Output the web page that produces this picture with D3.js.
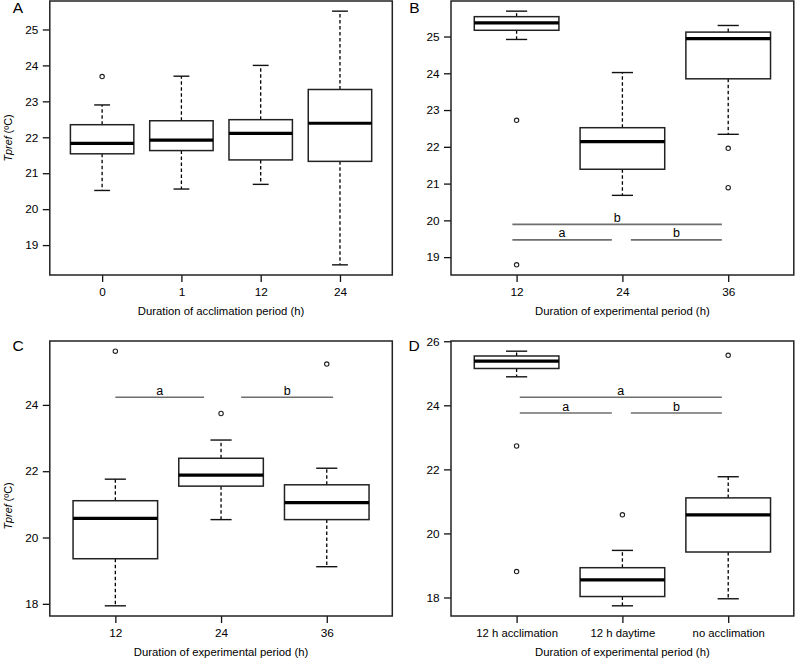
<!DOCTYPE html>
<html><head><meta charset="utf-8">
<script src="https://cdn.jsdelivr.net/npm/d3@7"></script>
<style>body{margin:0;background:#fff} svg{display:block;font-family:"Liberation Sans",Arial,sans-serif}</style>
</head><body><svg id="c" width="796" height="658"></svg>
<script>
// ---- data: each box is [lower whisker, Q1, median, Q3, upper whisker]
const catsA = ["0", "1", "12", "24"];
const boxA = [[20.52, 21.54, 21.83, 22.35, 22.90], [20.56, 21.63, 21.92, 22.46, 23.70], [20.69, 21.37, 22.11, 22.49, 24.00], [18.45, 21.33, 22.39, 23.33, 25.51]];
const outA = [[23.69], [], [], []];
const ticksA = [19, 20, 21, 22, 23, 24, 25];

const catsB = ["12", "24", "36"];
const boxB = [[24.92, 25.17, 25.37, 25.54, 25.69], [20.68, 21.39, 22.14, 22.52, 24.02], [22.34, 23.85, 24.94, 25.12, 25.30]];
const outB = [[22.72, 18.79], [], [21.96, 20.89]];
const ticksB = [19, 20, 21, 22, 23, 24, 25];
const sigB = [{x1: 0.96, x2: 2.94, y: 19.89, t: "b"}, {x1: 0.96, x2: 1.90, y: 19.47, t: "a"}, {x1: 2.08, x2: 2.94, y: 19.47, t: "b"}];

const catsC = ["12", "24", "36"];
const boxC = [[17.94, 19.36, 20.58, 21.11, 21.76], [20.54, 21.55, 21.88, 22.39, 22.94], [19.12, 20.54, 21.05, 21.59, 22.09]];
const outC = [[25.62], [23.74], [25.23]];
const ticksC = [18, 20, 22, 24];
const sigC = [{x1: 1.00, x2: 1.84, y: 24.23, t: "a"}, {x1: 2.19, x2: 3.06, y: 24.23, t: "b"}];

const catsD = ["12 h acclimation", "12 h daytime", "no acclimation"];
const boxD = [[24.89, 25.15, 25.38, 25.54, 25.69], [17.74, 18.03, 18.55, 18.93, 19.47], [17.96, 19.42, 20.58, 21.11, 21.77]];
const outD = [[22.73, 18.81], [20.58], [25.56]];
const ticksD = [18, 20, 22, 24, 26];
const sigD = [{x1: 1.03, x2: 2.94, y: 24.25, t: "a"}, {x1: 1.03, x2: 1.90, y: 23.76, t: "a"}, {x1: 2.08, x2: 2.94, y: 23.76, t: "b"}];

const titleA = "Duration of acclimation period (h)";
const titleExp = "Duration of experimental period (h)";

// ---- layout
const panels = [
  {lab: "A", cats: catsA, box: boxA, out: outA, ticks: ticksA, sig: [], title: titleA, ylab: true, L: 49.8, R: 392.3, T: 1, B: 275, labX: 18, labY: 12.5, ylabY: 138},
  {lab: "B", cats: catsB, box: boxB, out: outB, ticks: ticksB, sig: sigB, title: titleExp, ylab: false, L: 451, R: 793.8, T: 1, B: 275, labX: 414.5, labY: 12.5},
  {lab: "C", cats: catsC, box: boxC, out: outC, ticks: ticksC, sig: sigC, title: titleExp, ylab: true, L: 49.8, R: 392.3, T: 341, B: 616, labX: 18, labY: 351, ylabY: 506},
  {lab: "D", cats: catsD, box: boxD, out: outD, ticks: ticksD, sig: sigD, title: titleExp, ylab: false, L: 451, R: 793.8, T: 341, B: 616, labX: 414, labY: 351}
];

const svg = d3.select("#c");
const FS = 11.3, TFS = 11.8;

panels.forEach(p => {
  const n = p.cats.length;
  const g = svg.append("g");
  const x = d3.scaleLinear().domain([0.5 - 0.04 * n, n + 0.5 + 0.04 * n]).range([p.L, p.R]);
  const all = p.box.flat().concat(p.out.flat());
  const mn = d3.min(all), mx = d3.max(all), ext = (mx - mn) * 0.04;
  const y = d3.scaleLinear().domain([mn - ext, mx + ext]).range([p.B, p.T]);

  // axes
  const ya = g.append("g").attr("transform", `translate(${p.L},0)`)
    .call(d3.axisLeft(y).tickValues(p.ticks).tickSize(7).tickPadding(4.5).tickFormat(d3.format("d")));
  ya.select(".domain").remove();
  ya.selectAll("line").attr("stroke", "#111").attr("stroke-width", 1.3);
  ya.selectAll("text").attr("font-size", TFS).attr("fill", "#000").attr("font-family", null);

  const xa = g.append("g").attr("transform", `translate(0,${p.B})`)
    .call(d3.axisBottom(x).tickValues(d3.range(1, n + 1)).tickSize(7).tickPadding(5.5).tickFormat(i => p.cats[i - 1]));
  xa.select(".domain").remove();
  xa.selectAll("line").attr("stroke", "#111").attr("stroke-width", 1.3);
  xa.selectAll("text").attr("font-size", n === 3 && p.lab === "D" ? FS : TFS).attr("fill", "#000").attr("font-family", null);

  const bw = x(1.4) - x(1);
  const cw = bw / 2;

  const bx = g.selectAll(".bx").data(p.box).join("g");
  // whiskers
  bx.append("line").attr("x1", (d, i) => x(i + 1)).attr("x2", (d, i) => x(i + 1))
    .attr("y1", d => y(d[3])).attr("y2", d => y(d[4]))
    .attr("stroke", "#000").attr("stroke-width", 1.3).attr("stroke-dasharray", "3.5,2.5");
  bx.append("line").attr("x1", (d, i) => x(i + 1)).attr("x2", (d, i) => x(i + 1))
    .attr("y1", d => y(d[1])).attr("y2", d => y(d[0]))
    .attr("stroke", "#000").attr("stroke-width", 1.3).attr("stroke-dasharray", "3.5,2.5");
  // caps
  [0, 4].forEach(k => {
    bx.append("line").attr("x1", (d, i) => x(i + 1) - cw / 2).attr("x2", (d, i) => x(i + 1) + cw / 2)
      .attr("y1", d => y(d[k])).attr("y2", d => y(d[k]))
      .attr("stroke", "#111").attr("stroke-width", 1.4);
  });
  // box
  bx.append("rect").attr("x", (d, i) => x(i + 1) - bw).attr("width", 2 * bw)
    .attr("y", d => y(d[3])).attr("height", d => y(d[1]) - y(d[3]))
    .attr("fill", "#fff").attr("stroke", "#222").attr("stroke-width", 1.5);
  // median
  bx.append("line").attr("x1", (d, i) => x(i + 1) - bw).attr("x2", (d, i) => x(i + 1) + bw)
    .attr("y1", d => y(d[2])).attr("y2", d => y(d[2]))
    .attr("stroke", "#000").attr("stroke-width", 3.2);

  // outliers
  p.out.forEach((arr, i) => {
    g.selectAll(null).data(arr).join("circle")
      .attr("cx", x(i + 1)).attr("cy", d => y(d)).attr("r", 2.2)
      .attr("fill", "none").attr("stroke", "#222").attr("stroke-width", 1.1);
  });

  // significance bars
  g.selectAll(".sl").data(p.sig).join("line")
    .attr("x1", d => x(d.x1)).attr("x2", d => x(d.x2)).attr("y1", d => y(d.y)).attr("y2", d => y(d.y))
    .attr("stroke", "#6e6e6e").attr("stroke-width", 1.6);
  g.selectAll(".st").data(p.sig).join("text")
    .attr("x", d => x((d.x1 + d.x2) / 2)).attr("y", d => y(d.y) - 2.5)
    .attr("text-anchor", "middle").attr("font-size", 12.5).attr("fill", "#000").text(d => d.t);

  // frame
  g.append("rect").attr("x", p.L).attr("y", p.T).attr("width", p.R - p.L).attr("height", p.B - p.T)
    .attr("fill", "none").attr("stroke", "#222").attr("stroke-width", 1.5);

  // x title
  g.append("text").attr("x", (p.L + p.R) / 2).attr("y", p.B + 40).attr("text-anchor", "middle")
    .attr("font-size", FS).attr("fill", "#000").text(p.title);

  // panel letter
  g.append("text").attr("x", p.labX).attr("y", p.labY).attr("text-anchor", "middle")
    .attr("font-size", 15.5).attr("fill", "#000").text(p.lab);

  // y label
  if (p.ylab) {
    const t = g.append("text").attr("transform", `translate(12,${p.ylabY}) rotate(-90)`)
      .attr("text-anchor", "middle").attr("font-size", 10.8).attr("fill", "#000");
    t.append("tspan").attr("font-style", "italic").text("Tpref");
    t.append("tspan").text(" (ºC)");
  }
});
</script></body></html>
